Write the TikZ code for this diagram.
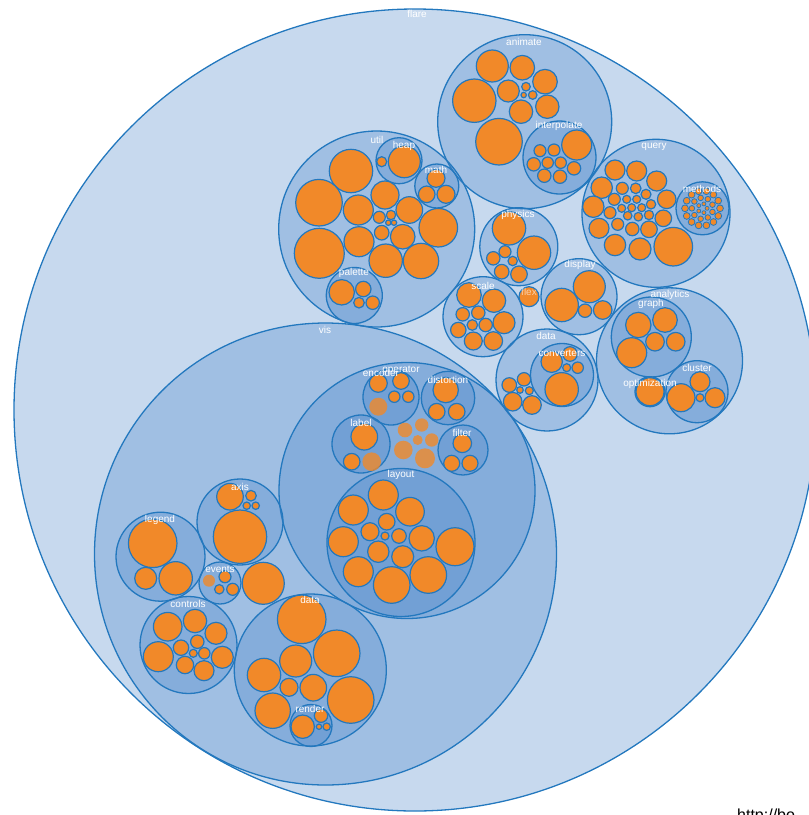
\documentclass[tikz,border=0pt]{standalone}
\usepackage{fontspec}
\setmainfont{Liberation Sans}
\definecolor{packblue}{RGB}{70,130,200}
\definecolor{rimblue}{RGB}{35,120,190}
\definecolor{leaforange}{RGB}{241,137,41}

\begin{document}
\begin{tikzpicture}[x=1pt,y=-1pt,
  grp/.style={draw=rimblue,line width=1.3pt,fill=packblue,fill opacity=0.3},
  leaf/.style={draw=rimblue,line width=1.2pt,fill=leaforange},
  haze/.style={fill=leaforange,opacity=0.8},
  lbl/.style={text=white,font=\fontsize{10}{12}\selectfont,inner sep=0pt}]
  \useasboundingbox (0,0) rectangle (809,815);

  % flare and its packages
  \draw[grp] (415,410) circle (401);
  \draw[grp] (524.7,121.7) circle (87);    % animate
  \draw[grp] (559.5,157.5) circle (36.5);  % interpolate
  \draw[grp] (376.7,229) circle (98);      % util
  \draw[grp] (399,160.7) circle (23);      % heap
  \draw[grp] (436.8,186) circle (22);      % math
  \draw[grp] (354.3,295.5) circle (28);    % palette
  \draw[grp] (656,213.3) circle (74);      % query
  \draw[grp] (702.5,208.3) circle (26.5);  % methods
  \draw[grp] (518.8,246.7) circle (39);    % physics
  \draw[grp] (483,316.7) circle (40);      % scale
  \draw[grp] (579,296.7) circle (38);      % display
  \draw[grp] (547,380) circle (51);        % data
  \draw[grp] (562,375) circle (31.5);      % converters
  \draw[grp] (669.5,360.8) circle (73);    % analytics
  \draw[grp] (651.3,337) circle (40);      % graph
  \draw[grp] (650,391.7) circle (15);      % optimization
  \draw[grp] (697,391.7) circle (31);      % cluster
  \draw[grp] (325.5,554) circle (231);     % vis
  \draw[grp] (407,490.5) circle (128);     % operator
  \draw[grp] (391,397) circle (28);        % encoder
  \draw[grp] (448,398) circle (26.7);      % distortion
  \draw[grp] (361,444) circle (29);        % label
  \draw[grp] (463,450) circle (25);        % filter
  \draw[grp] (401,542.5) circle (74);      % layout
  \draw[grp] (160.5,556.7) circle (44.5);  % legend
  \draw[grp] (240,522) circle (43);        % axis
  \draw[grp] (220,583) circle (21);        % events
  \draw[grp] (188.5,645) circle (48.5);    % controls
  \draw[grp] (310.3,670) circle (76);      % data
  \draw[grp] (311,725.5) circle (21);      % render

  % leaves
  \foreach \x/\y/\r in {492.3/66/16, 522.3/67.7/12.3, 545/81.7/12.3,
      474.3/100.7/21.7, 508.3/91/11, 526/86.7/4.3, 532.7/95/4.3,
      523.7/95/2.7, 521/111.7/11.7, 547.3/106.7/11.7, 499/141.7/23.3,
      576.7/145/15, 540/150.7/6, 554/150/6, 533.7/164.3/6.7,
      547.7/162.7/5.7, 560.7/162.7/5.7, 574/168.3/6.7, 544.3/175.7/6.7,
      560/176.7/6.7}
    \draw[leaf] (\x,\y) circle (\r);
  \foreach \x/\y/\r in {351/171/21.7, 319/202.7/23.3, 358.3/210/15,
      385/195/14, 409.3/210/13.3, 379.3/217.3/6, 391/215/4.7,
      388.3/222.7/2.7, 394/222.7/2.7, 438.3/227.7/19.3, 319.3/253.3/25,
      359/241.7/15, 381.7/232.7/7.3, 402.7/236.7/12.3, 385.7/260.7/16.7,
      421/261/17.7, 404.3/161.7/16, 381.7/161.7/5, 436/178.3/9,
      426.7/194.3/8.3, 446/194.3/9, 341.7/292.3/12.7, 363.3/289/7.7,
      359/302.7/5.3, 372.7/302.7/6.7}
    \draw[leaf] (\x,\y) circle (\r);
  \foreach \x/\y/\r in {615/170/10, 636.7/171/10, 656.7/181/10,
      601.7/187.7/10.7, 622.3/188.3/6, 635.7/188.3/5.3, 646/194.3/5,
      666.7/199.3/9.3, 614.3/199.3/6, 626.7/199.3/4, 636.7/199.3/4,
      651/204.3/4.7, 593.3/206.7/10.7, 621.7/208.3/4, 631.7/207.7/4,
      641.7/207.7/4, 610/212.7/6, 627.7/215.7/4.3, 638.3/216.7/4.3,
      649/215/4.7, 663.3/218.3/8.3, 599/228.3/10, 617.7/224.3/6,
      632.3/229/6.7, 649/229.3/8.3, 615/245/10.7, 640/249/11,
      673.3/246.7/19.3}
    \draw[leaf] (\x,\y) circle (\r);
  \foreach \a in {0,25.7,...,359}
    \draw[leaf,line width=0.8pt] ([shift={(\a:17.5)}]702.5,208.3) circle (3.4);
  \foreach \a in {20,60,...,359}
    \draw[leaf,line width=0.8pt] ([shift={(\a:10.6)}]702.5,208.3) circle (2.8);
  \foreach \a in {0,72,...,359}
    \draw[leaf,line width=0.7pt] ([shift={(\a:4.6)}]702.5,208.3) circle (2);
  \foreach \x/\y/\r in {509/228.3/16.7, 534/252.7/16.7, 505/251.7/6,
      493.3/258.3/6.7, 512.7/261/4.7, 501.7/271.7/7.3, 519/274.3/8.3,
      529/296.7/10,
      469/295/12.3, 494/300.7/11.7, 462.7/314.3/6.7, 478.3/312.7/6.7,
      504/322.7/11, 472.3/325/5.3, 485.7/325/6.7, 458.3/330/7.7,
      473.3/341/9, 493.3/341/9.3,
      589.3/286.7/16, 561.7/305/16.7, 585/310.7/6.7, 602.7/310/9.3,
      551.7/361.7/10.7, 570/354/7.3, 566.7/367.7/4, 577.7/367.7/5.7,
      561.7/389.3/16.7, 509.3/385/7.3, 524/379.3/6.7, 520/390/3.3,
      529.3/390.7/4, 512.7/401.7/9.3, 532/405/9.3}
    \draw[leaf] (\x,\y) circle (\r);
  \foreach \x/\y/\r in {638.3/325/12.7, 665/320/12.3, 631.7/352.7/15,
      655/341.7/9.3, 675.7/341.7/9.3, 650/391.7/14,
      700/381.7/10, 681/397.7/14, 700/397.7/4, 715/397.7/10}
    \draw[leaf] (\x,\y) circle (\r);
  % vis
  \foreach \x/\y/\r in {378.3/383.3/9, 401/381/8.3, 394.3/396.7/5.7,
      408.3/396.7/5.7, 445.7/390/12.7, 436.7/411.7/8.3, 456.7/411.7/8.3,
      364.3/436.7/13.3, 351.7/461.7/8.3, 462.3/443.3/9.3,
      451.7/463.3/8, 470/463.3/8}
    \draw[leaf] (\x,\y) circle (\r);
  \foreach \x/\y/\r in {378.3/406.7/9, 371.7/461.7/9.3, 405/430/7.3,
      421.7/425/6.7, 417.7/440/5, 431.7/440/6.7, 403.3/450/9.3,
      425/458.3/10}
    \fill[haze] (\x,\y) circle (\r);
  \foreach \x/\y/\r in {383.3/495/15, 353.3/510/15, 410/511.7/14.3,
      386.7/521.7/8.3, 370/531.7/9, 385/536/4, 399/536/7.3,
      421.7/538.3/12.7, 343.3/541.7/15, 455/546.7/19, 378.3/551.7/10.7,
      402.7/556.7/11, 358.3/571.7/15, 391.7/585/18.3, 428.3/575/18.3}
    \draw[leaf] (\x,\y) circle (\r);
  \foreach \x/\y/\r in {152.7/543.3/24.3, 145.7/578.3/11, 175.7/578.3/16.7,
      230/496.7/13.3, 251/495.7/5.3, 246.7/505.7/3.7, 255.7/505.7/3.7,
      240/536.7/26.7, 225/576.7/6, 219.3/589.3/4.7, 232.7/589.3/6,
      263.3/583.3/21,
      167.7/626.7/14.3, 195/621/11.7, 216/633.3/11, 158.3/656.7/15,
      181/647.7/7.7, 197.3/641.7/6.7, 193.3/653.3/4, 204.3/653.3/5.7,
      222.3/657.3/11, 185/665/8.7, 204/670.7/10}
    \draw[leaf] (\x,\y) circle (\r);
  \fill[haze] (209,580.7) circle (6);
  \foreach \x/\y/\r in {301.7/619.3/24.3, 336.7/653.3/23.3, 295.7/661/16,
      264/675/16.7, 289/687.3/9, 313.3/687.7/13.3, 350.7/700/23.3,
      272.7/710.7/17.7, 302.7/726.7/11.7, 321/715.7/6.7, 319/726.7/2.7,
      326.7/726.7/3.7}
    \draw[leaf] (\x,\y) circle (\r);

  % labels
  \node[lbl] (l-flare) at (417,14) {flare};
  \node[lbl] (l-animate) at (524,42) {animate};
  \node[lbl] (l-interpolate) at (559,126) {interpolate};
  \node[lbl] (l-util) at (377,140) {util};
  \node[lbl] (l-heap) at (404,146) {heap};
  \node[lbl] (l-math) at (436,170) {math};
  \node[lbl] (l-query) at (654,147) {query};
  \node[lbl] (l-methods) at (702,189) {methods};
  \node[lbl] (l-physics) at (518,215) {physics};
  \node[lbl] (l-palette) at (354,273) {palette};
  \node[lbl] (l-display) at (580,265) {display};
  \node[lbl] (l-scale) at (483,286) {scale};
  \node[lbl,opacity=0.6] (l-flex) at (529,292) {flex};
  \node[lbl] (l-analytics) at (670,295) {analytics};
  \node[lbl] (l-graph) at (651,304) {graph};
  \node[lbl] (l-vis) at (325,330) {vis};
  \node[lbl] (l-data) at (546,336) {data};
  \node[lbl] (l-converters) at (562,353) {converters};
  \node[lbl] (l-cluster) at (697,368) {cluster};
  \node[lbl] (l-operator) at (401,370) {operator};
  \node[lbl] (l-encoder) at (381,373) {encoder};
  \node[lbl] (l-distortion) at (448,380) {distortion};
  \node[lbl] (l-optimization) at (650,384) {optimization};
  \node[lbl] (l-label) at (361,423) {label};
  \node[lbl] (l-filter) at (462,433) {filter};
  \node[lbl] (l-layout) at (401,475) {layout};
  \node[lbl] (l-axis) at (240,487) {axis};
  \node[lbl] (l-legend) at (160,520) {legend};
  \node[lbl] (l-events) at (220,569) {events};
  \node[lbl] (l-controls) at (188,604) {controls};
  \node[lbl] (l-visdata) at (310,600) {data};
  \node[lbl] (l-render) at (310,709) {render};
  \node[anchor=base west,inner sep=0pt,font=\fontsize{16}{18}\selectfont]
    (source) at (737,820) {http://bo};
\end{tikzpicture}
\end{document}
